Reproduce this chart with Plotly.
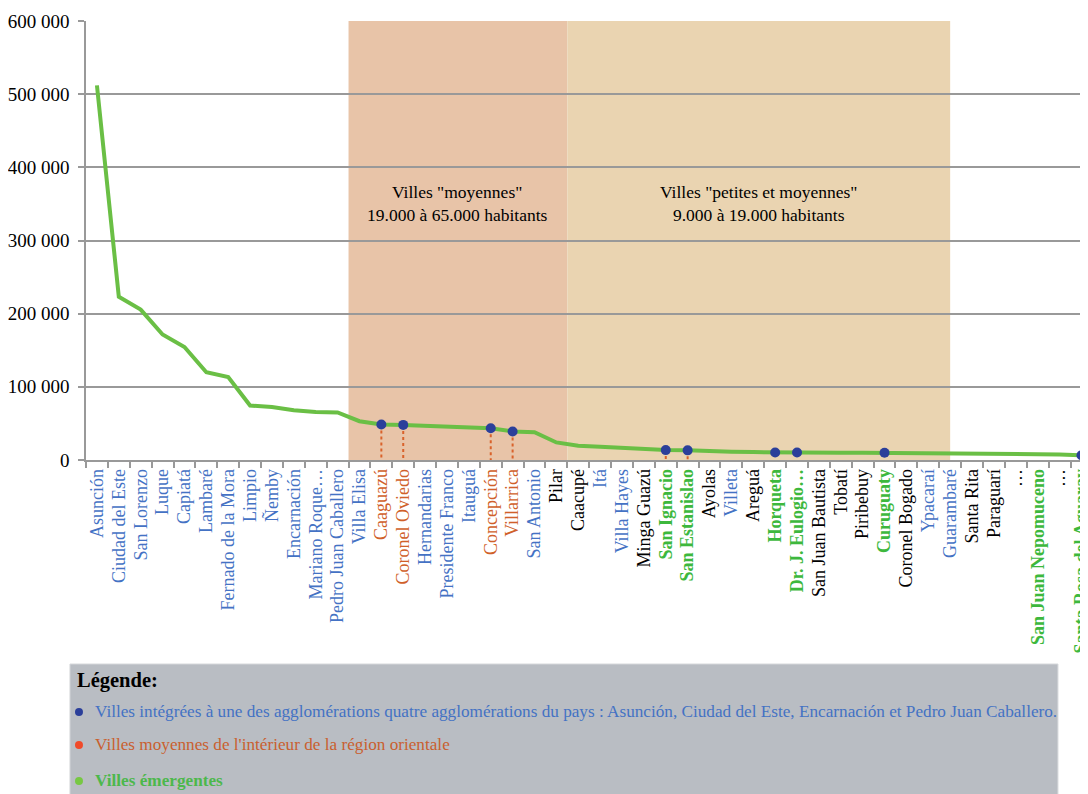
import plotly.graph_objects as go

cities = ["Asunción", "Ciudad del Este", "San Lorenzo", "Luque", "Capiatá", "Lambaré",
          "Fernado de la Mora", "Limpio", "Ñemby", "Encarnación", "Mariano Roque…",
          "Pedro Juan Caballero", "Villa Elisa", "Caaguazú", "Coronel Oviedo", "Hernandarias",
          "Presidente Franco", "Itauguá", "Concepción", "Villarrica", "San Antonio", "Pilar",
          "Caacupé", "Itá", "Villa Hayes", "Minga Guazú", "San Ignacio", "San Estanislao",
          "Ayolas", "Villeta", "Areguá", "Horqueta", "Dr. J. Eulogio…", "San Juan Bautista",
          "Tobatí", "Piribebuy", "Curuguaty", "Coronel Bogado", "Ypacaraí", "Guarambaré",
          "Santa Rita", "Paraguarí", "…", "San Juan Nepomuceno", "…", "Santa Rosa del Aguaray"]

population = [512000, 223000, 205500, 171500, 154500, 120000,
              113500, 74500, 72500, 68000, 65500,
              65000, 53000, 48500, 48000, 47000,
              46500, 45500, 43500, 39000, 38000, 24000,
              19500, 18200, 16400, 15500, 13500, 13200,
              11800, 11200, 10800, 10300, 10200, 10100,
              10000, 9900, 9800, 9600, 9400, 9200,
              8800, 8500, 8200, 7900, 7500, 6500]

groups = ["agglo"] * 13 + ["moyenne", "moyenne", "agglo", "agglo", "agglo", "moyenne", "moyenne",
          "agglo", "autre", "autre", "agglo", "agglo", "autre", "emergente", "emergente",
          "autre", "agglo", "autre", "emergente", "emergente", "autre", "autre", "autre",
          "emergente", "autre", "agglo", "agglo", "autre", "autre", "autre", "emergente",
          "autre", "emergente"]

dot_cities = ["Caaguazú", "Coronel Oviedo", "Concepción", "Villarrica", "San Ignacio",
              "San Estanislao", "Horqueta", "Dr. J. Eulogio…", "Curuguaty", "Santa Rosa del Aguaray"]
dashed_cities = ["Caaguazú", "Coronel Oviedo", "Concepción", "Villarrica", "San Ignacio", "San Estanislao"]

y_ticks = [0, 100000, 200000, 300000, 400000, 500000, 600000]

legend_items = [
    ("Villes intégrées à une des agglomérations quatre agglomérations du pays : Asunción, Ciudad del Este, Encarnación et Pedro Juan Caballero.", "agglo"),
    ("Villes moyennes de l'intérieur de la région orientale", "moyenne"),
    ("Villes émergentes", "emergente"),
]

label_colors = {"agglo": "#4472C4", "moyenne": "#D0602A", "emergente": "#3DB83D", "autre": "#000000"}
dot_legend_colors = {"agglo": "#2B3F9A", "moyenne": "#F04A2A", "emergente": "#77C843"}
legend_text_colors = {"agglo": "#4472C4", "moyenne": "#C9602F", "emergente": "#4CB84C"}

FONT = "Liberation Serif, Times New Roman, serif"

x = list(range(len(cities)))


def styled(name, g):
    t = f'<span style="color:{label_colors[g]}">{name}</span>'
    if g == "emergente":
        t = f"<b>{t}</b>"
    return t


ticktext = [styled(c, g) for c, g in zip(cities, groups)]

fig = go.Figure()

# dashed drop lines
dx, dy = [], []
for i, c in enumerate(cities):
    if c in dashed_cities:
        dx += [i, i, None]
        dy += [population[i], 0, None]
fig.add_trace(go.Scatter(x=dx, y=dy, mode="lines",
                         line=dict(color="#D9622B", width=2, dash="dot"),
                         hoverinfo="skip", showlegend=False, cliponaxis=False))

fig.add_trace(go.Scatter(x=x, y=population, mode="lines",
                         line=dict(color="#6ABF45", width=4),
                         showlegend=False))

mx = [i for i, c in enumerate(cities) if c in dot_cities]
my = [population[i] for i in mx]
fig.add_trace(go.Scatter(x=mx, y=my, mode="markers",
                         marker=dict(color="#2B3F9A", size=10),
                         showlegend=False, cliponaxis=False))

shapes = [
    dict(type="rect", xref="x", yref="paper", x0=11.5, x1=21.5, y0=0, y1=1,
         fillcolor="#E8C4A8", line=dict(width=0), layer="below"),
    dict(type="rect", xref="x", yref="paper", x0=21.5, x1=39, y0=0, y1=1,
         fillcolor="#EAD4B1", line=dict(width=0), layer="below"),
    dict(type="rect", xref="paper", yref="paper", x0=-0.016, x1=0.970, y0=-0.4647, y1=-0.80,
         fillcolor="#B9BDC3", line=dict(color="#D6D8DB", width=1), layer="above"),
]

annotations = [
    dict(x=16.5, y=0.585, xref="x", yref="paper", showarrow=False,
         text='Villes "moyennes"<br>19.000 à 65.000 habitants',
         font=dict(family=FONT, size=17.5, color="#000")),
    dict(x=30.25, y=0.585, xref="x", yref="paper", showarrow=False,
         text='Villes "petites et moyennes"<br>9.000 à 19.000 habitants',
         font=dict(family=FONT, size=17.5, color="#000")),
    dict(x=-0.0105, y=-0.5034, xref="paper", yref="paper", showarrow=False,
         xanchor="left", yanchor="middle", text="<b>Légende:</b>",
         font=dict(family=FONT, size=20.5, color="#000")),
]

legend_y = [-0.574, -0.649, -0.731]
for (txt, g), yy in zip(legend_items, legend_y):
    t = txt if g != "emergente" else f"<b>{txt}</b>"
    annotations.append(dict(x=0.007, y=yy, xref="paper", yref="paper", showarrow=False,
                            xanchor="left", yanchor="middle", text=t,
                            font=dict(family=FONT, size=17.2, color=legend_text_colors[g])))
    shapes.append(dict(type="circle", xref="paper", yref="paper",
                       xsizemode="pixel", ysizemode="pixel",
                       xanchor=-0.007, yanchor=yy, x0=-4, x1=4, y0=-4, y1=4,
                       fillcolor=dot_legend_colors[g], line=dict(width=0), layer="above"))

fig.update_layout(
    width=1080, height=786,
    margin=dict(l=78, r=0, t=13, b=334),
    paper_bgcolor="white", plot_bgcolor="white",
    separators=". ",
    shapes=shapes, annotations=annotations,
    font=dict(family=FONT, size=17, color="#000"),
    showlegend=False,
)

fig.update_xaxes(
    range=[-0.5, 45.3], tickmode="array", tickvals=x, ticktext=ticktext,
    tickangle=-90, ticks="", showgrid=False, zeroline=False,
    showline=True, linecolor="#999999", linewidth=1.5,
    tickfont=dict(family=FONT, size=18),
    automargin=False, ticklabeloverflow="allow",
    minor=dict(tickmode="linear", tick0=0.5, dtick=1, ticks="outside", ticklen=6,
               tickcolor="#999999", tickwidth=1.5, showgrid=False),
)

fig.update_yaxes(
    range=[0, 600000], tickmode="array", tickvals=y_ticks, tickformat=",d",
    showgrid=True, gridcolor="#999999", gridwidth=1.5, zeroline=False,
    showline=True, linecolor="#999999", linewidth=1.5,
    ticks="outside", ticklen=6, tickcolor="#999999", tickwidth=1.5,
    automargin=False, ticklabelstandoff=5,
    tickfont=dict(family=FONT, size=19, color="#000"),
)

fig.write_html("out.html")
